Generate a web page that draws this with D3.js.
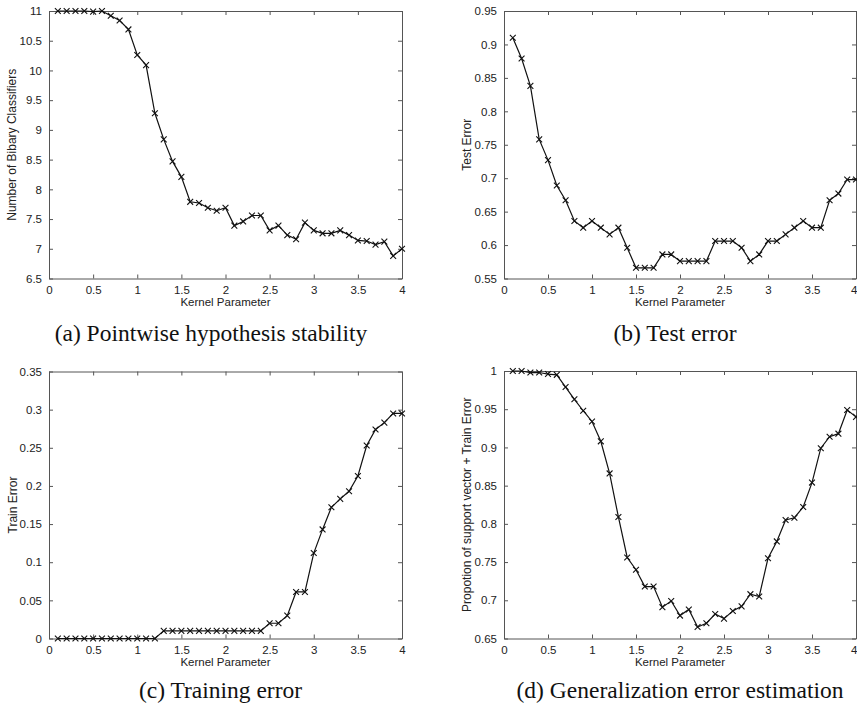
<!DOCTYPE html>
<html>
<head>
<meta charset="utf-8">
<script src="https://cdn.jsdelivr.net/npm/d3@7"></script>
<style>
  body { margin: 0; background: #fff; }
  svg text { font-family: "Liberation Sans", Arial, sans-serif; }
  .caption { font-family: "Liberation Serif", "Times New Roman", serif !important; }
</style>
</head>
<body>
<svg id="fig" width="857" height="706"></svg>
<script>
// kernel parameter values (x)
var kernelParams = [0.1,0.2,0.3,0.4,0.5,0.6,0.7,0.8,0.9,1.0,1.1,1.2,1.3,1.4,1.5,1.6,1.7,1.8,1.9,2.0,
                    2.1,2.2,2.3,2.4,2.5,2.6,2.7,2.8,2.9,3.0,3.1,3.2,3.3,3.4,3.5,3.6,3.7,3.8,3.9,4.0];

// (a) number of binary classifiers
var stabilityVals = [11,11,11,11,10.99,11,10.92,10.84,10.69,10.26,10.09,9.28,8.84,8.47,8.21,7.79,7.77,7.69,7.64,7.69,
                     7.39,7.46,7.56,7.56,7.31,7.39,7.23,7.16,7.44,7.31,7.26,7.26,7.31,7.23,7.14,7.13,7.07,7.12,6.88,7.0];

// (b) test error
var testErrVals = [0.910,0.879,0.838,0.758,0.727,0.689,0.667,0.636,0.626,0.636,0.626,0.616,0.626,0.596,0.566,0.566,0.566,0.586,0.586,0.576,
                   0.576,0.576,0.576,0.606,0.606,0.606,0.596,0.576,0.586,0.606,0.606,0.616,0.626,0.636,0.626,0.626,0.667,0.677,0.698,0.698];

// (c) train error
var trainErrVals = [0,0,0,0,0,0,0,0,0,0,0,0,0.01,0.01,0.01,0.01,0.01,0.01,0.01,0.01,
                    0.01,0.01,0.01,0.01,0.02,0.02,0.03,0.061,0.061,0.112,0.143,0.172,0.183,0.193,0.213,0.253,0.274,0.283,0.295,0.295];

// (d) proportion of support vector + train error
var genErrVals = [1.0,1.0,0.998,0.998,0.996,0.995,0.979,0.963,0.948,0.934,0.908,0.866,0.809,0.756,0.740,0.718,0.718,0.691,0.699,0.680,
                  0.688,0.665,0.670,0.682,0.676,0.686,0.692,0.708,0.705,0.755,0.777,0.805,0.808,0.822,0.854,0.899,0.914,0.918,0.949,0.940];

var xTicks = [0,0.5,1,1.5,2,2.5,3,3.5,4];
var yTicksA = [6.5,7,7.5,8,8.5,9,9.5,10,10.5,11];
var yTicksB = [0.55,0.6,0.65,0.7,0.75,0.8,0.85,0.9,0.95];
var yTicksC = [0,0.05,0.1,0.15,0.2,0.25,0.3,0.35];
var yTicksD = [0.65,0.7,0.75,0.8,0.85,0.9,0.95,1];

var panels = [
    { vals: stabilityVals, yDomain: [6.5, 11], yTicks: yTicksA,
      box: { l: 49, r: 402, t: 11, b: 278.5 }, ylabelX: 12,
      ylabel: "Number of Bibary Classifiers", caption: "(a) Pointwise hypothesis stability", capX: 211, capY: 341 },
    { vals: testErrVals, yDomain: [0.55, 0.95], yTicks: yTicksB,
      box: { l: 504, r: 856, t: 11, b: 278.5 }, ylabelX: 467,
      ylabel: "Test Error", caption: "(b) Test error", capX: 675, capY: 341 },
    { vals: trainErrVals, yDomain: [0, 0.35], yTicks: yTicksC,
      box: { l: 49, r: 402, t: 371.5, b: 638.5 }, ylabelX: 13,
      ylabel: "Train Error", caption: "(c) Training error", capX: 220.5, capY: 698 },
    { vals: genErrVals, yDomain: [0.65, 1], yTicks: yTicksD,
      box: { l: 504, r: 856, t: 371, b: 638.5 }, ylabelX: 467,
      ylabel: "Propotion of support vector + Train Error", caption: "(d) Generalization error estimation", capX: 680, capY: 698 }
];

var svg = d3.select("#fig");
svg.append("rect").attr("width", 857).attr("height", 706).attr("fill", "#fff");

var frameColor = "#555";
var tickLen = 4;
var fmt = function(v) { return String(+v.toFixed(2)); };

panels.forEach(function(p) {
    var bx = p.box;
    var x = d3.scaleLinear().domain([0, 4]).range([bx.l, bx.r]);
    var y = d3.scaleLinear().domain(p.yDomain).range([bx.b, bx.t]);

    var g = svg.append("g");

    // bottom / top axes with inward ticks
    var bottom = g.append("g").attr("transform", "translate(0," + bx.b + ")")
        .call(d3.axisBottom(x).tickValues(xTicks).tickSizeInner(-tickLen).tickSizeOuter(0).tickPadding(7).tickFormat(fmt));
    var top = g.append("g").attr("transform", "translate(0," + bx.t + ")")
        .call(d3.axisTop(x).tickValues(xTicks).tickSizeInner(-tickLen).tickSizeOuter(0).tickFormat(""));
    var left = g.append("g").attr("transform", "translate(" + bx.l + ",0)")
        .call(d3.axisLeft(y).tickValues(p.yTicks).tickSizeInner(-tickLen).tickSizeOuter(0).tickPadding(7).tickFormat(fmt));
    var right = g.append("g").attr("transform", "translate(" + bx.r + ",0)")
        .call(d3.axisRight(y).tickValues(p.yTicks).tickSizeInner(-tickLen).tickSizeOuter(0).tickFormat(""));

    [bottom, top, left, right].forEach(function(a) {
        a.select(".domain").attr("stroke", frameColor).attr("stroke-width", 1);
        a.selectAll(".tick line").attr("stroke", frameColor);
        a.selectAll(".tick text").attr("fill", "#222").style("font-size", "11.5px");
    });

    // the last x label on the right-hand panels sits at the page edge: keep it inside
    if (bx.r > 850) {
        bottom.selectAll(".tick text").filter(function(d) { return d === 4; })
            .attr("text-anchor", "end").attr("x", 1);
    }

    // data line
    var pts = kernelParams.map(function(k, i) { return [k, p.vals[i]]; });
    var line = d3.line().x(function(d) { return x(d[0]); }).y(function(d) { return y(d[1]); });
    g.append("path").datum(pts).attr("d", line)
        .attr("fill", "none").attr("stroke", "#111").attr("stroke-width", 1.2);

    // x markers
    var sym = d3.symbol().type(d3.symbolX).size(24);
    g.selectAll(".mk").data(pts).enter().append("path")
        .attr("transform", function(d) { return "translate(" + x(d[0]) + "," + y(d[1]) + ")"; })
        .attr("d", sym).attr("fill", "none").attr("stroke", "#111").attr("stroke-width", 1.1);

    // labels
    g.append("text").attr("x", (bx.l + bx.r) / 2).attr("y", bx.b + 27.5)
        .attr("text-anchor", "middle").style("font-size", "11.5px").attr("fill", "#222")
        .text("Kernel Parameter");
    g.append("text").attr("transform", "translate(" + p.ylabelX + "," + ((bx.t + bx.b) / 2) + ") rotate(-90)")
        .attr("dy", "0.35em").attr("text-anchor", "middle").style("font-size", "12px").attr("fill", "#222")
        .text(p.ylabel);

    svg.append("text").attr("class", "caption").attr("x", p.capX).attr("y", p.capY)
        .attr("text-anchor", "middle").style("font-size", "23.5px").attr("fill", "#111")
        .text(p.caption);
});
</script>
</body>
</html>
